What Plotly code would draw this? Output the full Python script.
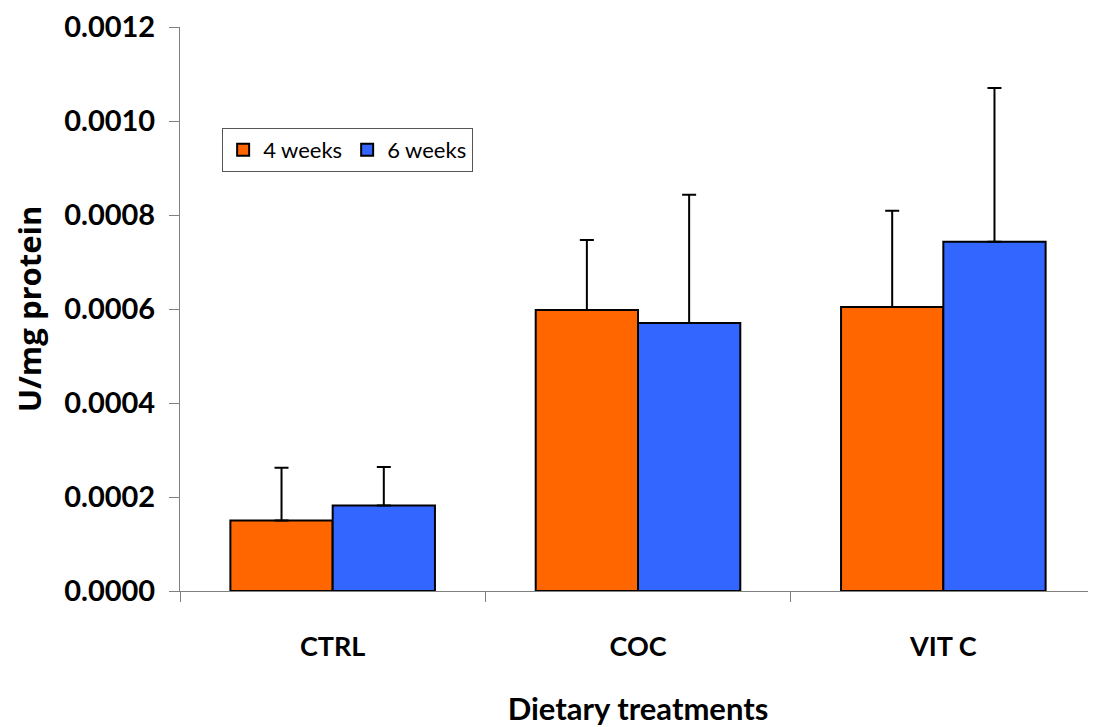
import plotly.graph_objects as go

categories = ["CTRL", "COC", "VIT C"]
weeks4 = [0.000150, 0.000598, 0.000604]
weeks4_err = [0.000112, 0.000149, 0.000205]
weeks6 = [0.000182, 0.000570, 0.000743]
weeks6_err = [0.000082, 0.000273, 0.000327]
y_ticks = [0, 0.0002, 0.0004, 0.0006, 0.0008, 0.0010, 0.0012]

FONT = "Lato"

fig = go.Figure()
for name, vals, errs, color in [
    ("4 weeks", weeks4, weeks4_err, "#FF6600"),
    ("6 weeks", weeks6, weeks6_err, "#3366FF"),
]:
    fig.add_trace(go.Bar(
        x=categories, y=vals, name=name,
        marker=dict(color=color, line=dict(color="black", width=2)),
        error_y=dict(type="data", array=errs, symmetric=False,
                     arrayminus=[0] * len(errs),
                     color="black", thickness=2, width=7),
    ))

fig.update_layout(
    width=1096, height=727,
    paper_bgcolor="white", plot_bgcolor="white",
    barmode="group", bargap=0.33, bargroupgap=0,
    margin=dict(l=172, r=8, t=19, b=144),
    font=dict(family=FONT, color="black"),
    showlegend=True,
    legend=dict(
        orientation="h", x=0.046, y=0.821, xanchor="left", yanchor="top",
        bordercolor="#555555", borderwidth=1, bgcolor="white",
        font=dict(size=22, family=FONT), itemwidth=30,
        traceorder="normal",
    ),
    xaxis=dict(
        automargin=False,
        showline=True, linecolor="#808080", linewidth=1,
        ticks="outside", tickson="boundaries", ticklen=10, tickcolor="#808080",
        ticklabelstandoff=32,
        tickfont=dict(size=27, family=FONT, weight="bold"),
        title=dict(text="<b>Dietary treatments</b>", font=dict(size=31, family=FONT), standoff=36),
        showgrid=False,
    ),
    yaxis=dict(
        automargin=False,
        range=[0, 0.0012], tickvals=y_ticks, tickformat=".4f",
        showline=True, linecolor="#808080", linewidth=1,
        ticks="outside", ticklen=10, tickcolor="#808080",
        ticklabelstandoff=8,
        tickfont=dict(size=29, family=FONT, weight="bold"),
        title=dict(text="<b>U/mg protein</b>", font=dict(size=31, family="Open Sans"), standoff=16),
        showgrid=False, zeroline=False,
    ),
)

fig.write_html("out.html")
